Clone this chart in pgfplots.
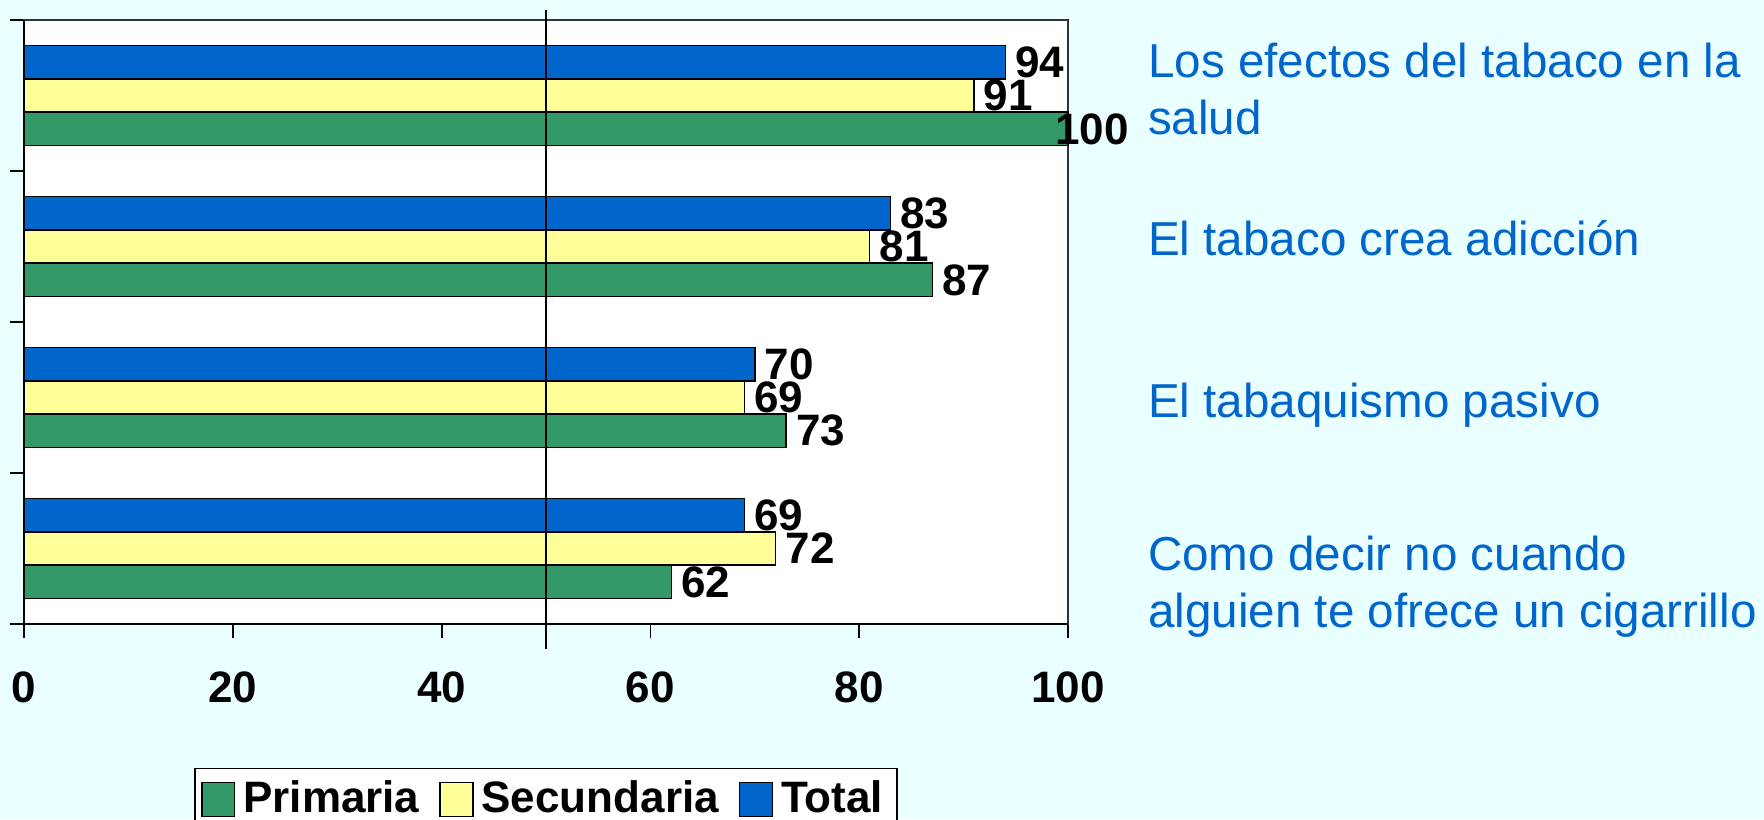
\documentclass[border=0pt]{standalone}
\usepackage{fontspec}
\setmainfont{Liberation Sans}
\usepackage{pgfplots}
\pgfplotsset{compat=1.18}
\usepackage{pgfplotstable}
\definecolor{bg}{HTML}{EAFFFF}
\definecolor{cprim}{HTML}{339966}
\definecolor{csec}{HTML}{FFFF99}
\definecolor{ctot}{HTML}{0066CC}
\definecolor{ctext}{HTML}{0066CC}

\pgfplotstableread{
y prim sec tot psh
0 62 72 69 2.3
1 73 69 70 2.3
2 87 81 83 2.3
3 100 91 94 -3.3
}\data

\begin{document}
\begin{tikzpicture}
\fill[bg] (-6pt,-48.75pt) rectangle (435pt,156pt);
\begin{axis}[
  at={(0,0)}, anchor=south west,
  width=261pt, height=151pt, scale only axis,
  xbar, bar width=0.2207,
  xmin=0, xmax=100, ymin=-0.5, ymax=3.5,
  xtick={0,20,...,100},
  ytick={-0.5,0.5,1.5,2.5,3.5}, yticklabels={},
  tick align=outside, tick pos=left, major tick length=3.5pt,
  tick style={black, line width=0.45pt},
  axis line style={black!80, line width=0.3pt},
  axis background/.style={fill=white},
  /pgf/number format/assume math mode=true,
  xticklabel style={font=\bfseries\fontsize{11}{13}\selectfont, yshift=-5pt},
  clip=false,
  nodes near coords style={anchor=west, inner sep=0pt, font=\bfseries\fontsize{11}{13}\selectfont},
  legend columns=3,
  legend style={at={(0.5,-0.238)}, anchor=north, draw=black, line width=0.4pt, fill=white,
    font=\bfseries\fontsize{11}{13}\selectfont, inner xsep=1.5pt, inner ysep=1pt,
    /tikz/every even column/.append style={column sep=3pt}},
  legend image code/.code={\draw[#1, line width=0.35pt] (0pt,-4.3pt) rectangle (8.2pt,4.3pt);},
]
\addplot[fill=cprim, draw=black, line width=0.35pt, bar shift=-0.2207,
  nodes near coords, visualization depends on={\thisrow{psh} \as \psh},
  every node near coord/.append style={xshift=\psh pt}]
  table[x=prim, y=y] {\data};
\addplot[fill=csec, draw=black, line width=0.35pt, bar shift=0,
  nodes near coords, every node near coord/.append style={xshift=2.3pt}]
  table[x=sec, y=y] {\data};
\addplot[fill=ctot, draw=black, line width=0.35pt, bar shift=0.2207,
  nodes near coords, every node near coord/.append style={xshift=2.3pt}]
  table[x=tot, y=y] {\data};
\legend{Primaria, Secundaria, Total}
\draw[black, line width=0.4pt] (axis cs:50,3.566) -- (axis cs:50,-0.666);
\draw[black, line width=0.55pt] (rel axis cs:0,1) -- (rel axis cs:0,0) -- (rel axis cs:1,0);
\node[anchor=west, align=left, inner sep=0pt, text=ctext, font=\fontsize{11.9}{14.25}\selectfont] at (axis cs:107.6,3.043) {Los efectos del tabaco en la\\salud};
\node[anchor=west, align=left, inner sep=0pt, text=ctext, font=\fontsize{11.9}{14.25}\selectfont] at (axis cs:107.6,2.053) {El tabaco crea adicción};
\node[anchor=west, align=left, inner sep=0pt, text=ctext, font=\fontsize{11.9}{14.25}\selectfont] at (axis cs:107.6,0.95) {El tabaquismo pasivo};
\node[anchor=west, align=left, inner sep=0pt, text=ctext, font=\fontsize{11.9}{14.25}\selectfont] at (axis cs:107.6,-0.252) {Como decir no cuando\\alguien te ofrece un cigarrillo};
\end{axis}
\pgfresetboundingbox
\path[use as bounding box] (-6pt,-48.75pt) rectangle (435pt,156pt);
\end{tikzpicture}
\end{document}
